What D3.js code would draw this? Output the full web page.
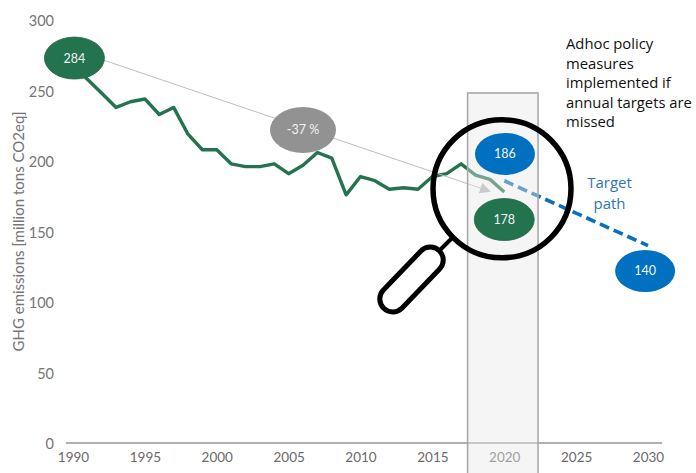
<!DOCTYPE html>
<html><head><meta charset="utf-8">
<script src="https://cdnjs.cloudflare.com/ajax/libs/d3/7.8.5/d3.min.js"></script>
<style>html,body{margin:0;padding:0;background:#fff}svg{display:block}text{font-family:Lato,sans-serif}</style>
</head><body><svg id="c" width="696" height="473"></svg>
<script>
const years = d3.range(1990, 2021);
const emissions = [268,258,248,238,242,244,233,238,219,208,208,198,196,196,198,191,197,206,202,176,189,186,180,181,180,189,191,198,190,187,178];
const targetYears = [2020, 2030];
const targetValues = [186, 140];
const yTicks = [0,50,100,150,200,250,300];
const xTicks = [1990,1995,2000,2005,2010,2015,2020,2025,2030];
const yTitle = "GHG emissions [million tons CO2eq]";
const noteLines = ["Adhoc policy","measures","implemented if","annual targets are","missed"];
const targetLines = ["Target","path"];

const W = 696, H = 473;
const x = d3.scaleLinear().domain([1990,2030]).range([73,648]);
const y = d3.scaleLinear().domain([0,300]).range([443,20]);
const svg = d3.select("#c");

// axes
const gy = svg.append("g").attr("transform","translate(55,1)").call(d3.axisLeft(y).tickValues(yTicks).tickSize(0).tickPadding(1));
gy.select(".domain").remove();
gy.selectAll("text").attr("font-size",14.5).attr("fill","#757575").style("font-family","Lato");
const gx = svg.append("g").attr("transform","translate(0,443)").call(d3.axisBottom(x).tickValues(xTicks).tickSize(0).tickPadding(9).tickFormat(d3.format("d")));
gx.select(".domain").attr("d","M66,0H662").attr("stroke","#b0b0b0").attr("stroke-width",2);
gx.selectAll("text").attr("font-size",13.5).attr("fill","#6a6a6a").style("font-family","Lato");

svg.append("text").attr("transform","translate(24,231.5) rotate(-90)").attr("text-anchor","middle")
  .attr("font-size",15).attr("fill","#757575").text(yTitle);

// series
const line = d3.line().x((d,i)=>x(years[i])).y(d=>y(d));
svg.append("path").datum(emissions).attr("d",line).attr("fill","none").attr("stroke","#23734f").attr("stroke-width",3.4).attr("stroke-linejoin","round");

const tline = d3.line().x((d,i)=>x(targetYears[i])).y(d=>y(d));
svg.append("path").datum(targetValues).attr("d",tline).attr("fill","none").attr("stroke","#0a6fc0").attr("stroke-width",3.6).attr("stroke-dasharray","10 5");

// trend arrow
const defs = svg.append("defs");
defs.append("marker").attr("id","ah").attr("viewBox","0 0 10 10").attr("refX",9).attr("refY",5)
  .attr("markerWidth",11).attr("markerHeight",11).attr("markerUnits","userSpaceOnUse").attr("orient","auto")
  .append("path").attr("d","M0,0L10,5L0,10Z").attr("fill","#b5b5b5");
svg.append("line").attr("x1",x(1992)).attr("y1",y(272)).attr("x2",x(2019)).attr("y2",y(178.5))
  .attr("stroke","#bdbdbd").attr("stroke-width",1).attr("marker-end","url(#ah)");

// highlighted band, semi transparent over the marks
svg.append("rect").attr("x",x(2017.45)).attr("y",93).attr("width",x(2022.35)-x(2017.45)).attr("height",H-93+4)
  .attr("fill","#e8e8e8").attr("fill-opacity",0.42).attr("stroke","#a9a9a9").attr("stroke-width",1.6);

// magnifier
svg.append("circle").attr("cx",502).attr("cy",188.8).attr("r",69).attr("fill","none").attr("stroke","#000").attr("stroke-width",5.5);
svg.append("line").attr("x1",452).attr("y1",238).attr("x2",440).attr("y2",250).attr("stroke","#000").attr("stroke-width",4);
svg.append("rect").attr("x",-40).attr("y",-13).attr("width",80).attr("height",26).attr("rx",13)
  .attr("transform","translate(411.5,279.5) rotate(-46)").attr("fill","#fff").attr("stroke","#000").attr("stroke-width",5);

// bubbles
const bubbleLabels = ["284","-37 %","186","178","140"];
const bubbleYears = [1990.1,2006,2020.05,2020,2029.8];
const bubbleLevels = [273,222,205,158.5,122];
const bubbleColors = ["#23734f","#929292","#0070c0","#23734f","#0070c0"];
bubbleLabels.forEach((t,i)=>{
  const rx = i===1?33:30, ry = i===1?23:21;
  svg.append("ellipse").attr("cx",x(bubbleYears[i])).attr("cy",y(bubbleLevels[i])).attr("rx",rx).attr("ry",ry)
    .attr("fill",bubbleColors[i]).attr("stroke",i===0||i===3?"#1f6446":"none").attr("stroke-width",0.8);
  svg.append("text").attr("x",x(bubbleYears[i])).attr("y",y(bubbleLevels[i])+4.5).attr("text-anchor","middle")
    .attr("font-size",12.5).attr("fill","#f2f2f2").text(t);
});

// notes
svg.append("g").selectAll("text").data(noteLines).join("text").attr("x",566).attr("y",(d,i)=>49+i*19.5)
  .attr("font-size",14.8).attr("fill","#111").style("font-family","Open Sans").text(d=>d);
svg.append("g").selectAll("text").data(targetLines).join("text").attr("x",609.5).attr("y",(d,i)=>188+i*20.5)
  .attr("text-anchor","middle").attr("font-size",15).attr("fill","#2e75b6").style("font-family","Open Sans").text(d=>d);
</script></body></html>
